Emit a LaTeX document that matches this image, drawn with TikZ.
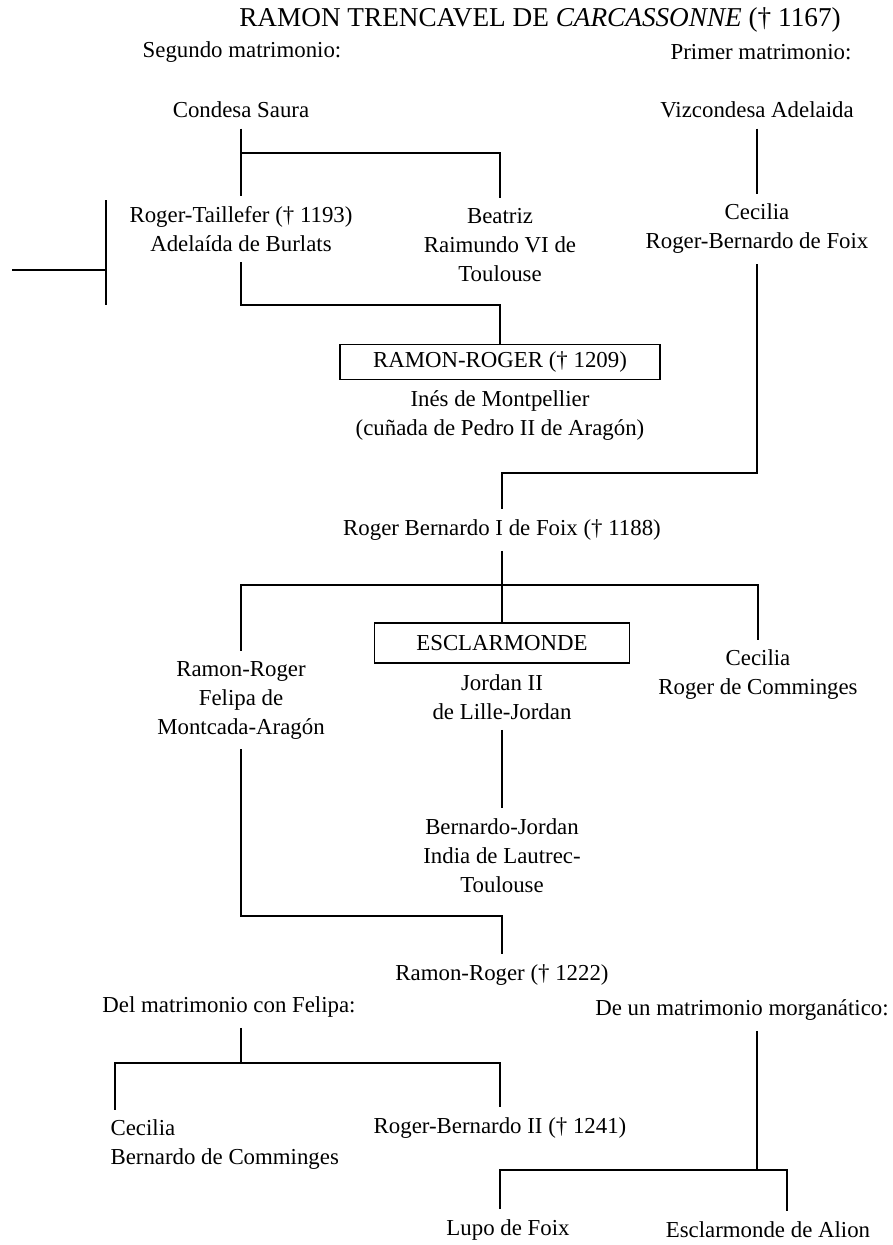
\documentclass[tikz,border=0pt]{standalone}
\usepackage{fontspec}
\setmainfont{Liberation Serif}
\usetikzlibrary{positioning}

\begin{document}
\begin{tikzpicture}[
  x=0.02cm, y=-0.02cm,
  font=\fontsize{13}{16.5}\selectfont,
  person/.style={align=center, inner sep=2pt, outer sep=4pt},
  heir/.style={draw, line width=0.9pt, minimum width=6.4cm, minimum height=0.7cm, inner sep=2pt},
  kin/.style={line width=0.9pt}
]
\useasboundingbox (0,0) rectangle (893,1245);

\node[font=\fontsize{15.5}{18}\selectfont] (title) at (540,20) {RAMON TRENCAVEL DE \textit{CARCASSONNE} († 1167)};

% first generation
\node[person] (segundo) at (242,52) {Segundo matrimonio:};
\node[person] (primer) at (761,52) {Primer matrimonio:};
\node[person] (saura) at (241,110) {Condesa Saura};
\node[person] (vizc) at (757,110) {Vizcondesa Adelaida};

\node[person] (taille) at (241,229) {Roger-Taillefer († 1193)\\Adelaída de Burlats};
\node[person] (beatriz) at (500,245) {Beatriz\\Raimundo VI de\\Toulouse};
\node[person] (cecA) at (757,229) {Cecilia\\Roger-Bernardo de Foix};

\coordinate (sauraJ) at (241,153);
\draw[kin] (saura) -- (taille);
\draw[kin] (sauraJ) -| (beatriz);
\draw[kin] (vizc) -- (cecA);

% bracket at left
\coordinate (brT) at (106,200);
\coordinate (brB) at (106,305);
\coordinate (brM) at (106,270);
\coordinate (brL) at (12,270);
\draw[kin] (brT) -- (brB);
\draw[kin] (brL) -- (brM);

\node[heir] (rr1209) at (500,362) {RAMON-ROGER († 1209)};
\node[person, below=0pt of rr1209] (ines) {Inés de Montpellier\\(cuñada de Pedro II de Aragón)};
\coordinate (tailleJ) at (241,305);
\draw[kin] (taille) -- (tailleJ) -| (rr1209);

\node[person] (rbfoix) at (502,530) {Roger Bernardo I de Foix († 1188)};
\coordinate (cecJ) at (757,473);
\draw[kin] (cecA) -- (cecJ) -| (rbfoix);

% second generation
\coordinate (foixJ) at (502,585);
\node[heir, minimum width=5.1cm, minimum height=0.8cm] (esclar) at (502,643) {ESCLARMONDE};
\node[person, below=0pt of esclar] (jordan) {Jordan II\\de Lille-Jordan};
\node[person] (rrB) at (241,700) {Ramon-Roger\\Felipa de\\Montcada-Aragón};
\node[person] (cecB) at (758,675) {Cecilia\\Roger de Comminges};
\draw[kin] (rbfoix) -- (esclar);
\draw[kin] (rrB) |- (foixJ) -| (cecB);

\node[person] (bjordan) at (502,856) {Bernardo-Jordan\\India de Lautrec-\\Toulouse};
\draw[kin] (jordan) -- (bjordan);

\node[person] (rr1222) at (502,975) {Ramon-Roger († 1222)};
\coordinate (rrJ) at (241,916);
\draw[kin] (rrB) -- (rrJ) -| (rr1222);

% third generation
\node[person] (delmat) at (229,1007) {Del matrimonio con Felipa:};
\node[person] (morgan) at (742,1010) {De un matrimonio morganático:};
\node[person, align=left, anchor=west] (cecC) at (100,1145) {Cecilia\\Bernardo de Comminges};
\node[person] (rb1241) at (500,1128) {Roger-Bernardo II († 1241)};
\node[person] (lupo) at (508,1230) {Lupo de Foix};
\node[person] (alion) at (768,1230) {Esclarmonde de Alion};

\coordinate (felJ) at (241,1063);
\coordinate (felL) at (115,1063);
\draw[kin] (delmat.south -| felJ) -- (felJ);
\draw[kin] (cecC.north -| felL) -- (felL) -| (rb1241);

\coordinate (morJ) at (757,1170);
\coordinate (morL) at (500,1170);
\coordinate (morR) at (787,1170);
\draw[kin] (morgan.south -| morJ) -- (morJ);
\draw[kin] (lupo.north -| morL) -- (morL) -- (morR) -- (alion.north -| morR);
\end{tikzpicture}
\end{document}
